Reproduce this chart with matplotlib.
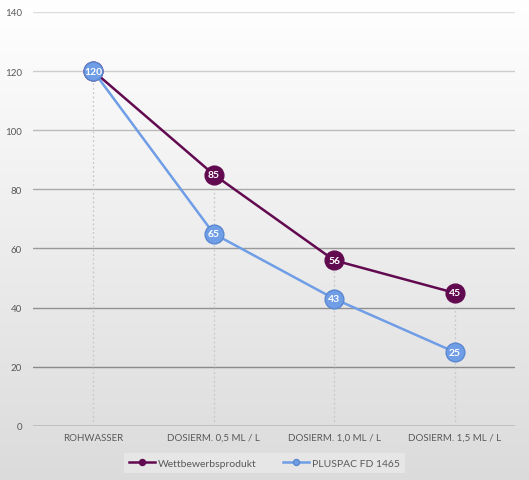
import numpy as np
import matplotlib
matplotlib.use("Agg")
import matplotlib.pyplot as plt

# Daten
categories = ["ROHWASSER", "DOSIERM. 0,5 ML / L", "DOSIERM. 1,0 ML / L", "DOSIERM. 1,5 ML / L"]
wettbewerb = [120, 85, 56, 45]
pluspac = [120, 65, 43, 25]
y_ticks = [0, 20, 40, 60, 80, 100, 120, 140]

purple = "#620a50"
blue = "#6f9de6"
text_grey = "#595959"

plt.rcParams["font.family"] = ["Lato", "DejaVu Sans"]

fig = plt.figure(figsize=(5.29, 4.81), dpi=100)

# Hintergrund-Verlauf
bg = fig.add_axes([0, 0, 1, 1], zorder=-10)
grad = np.linspace(1.0, 0.86, 256).reshape(-1, 1)
bg.imshow(np.dstack([grad, grad, grad]), aspect="auto", extent=[0, 1, 0, 1])
bg.axis("off")

ax = fig.add_axes([0.0624, 0.1123, 0.911, 0.861])
ax.patch.set_alpha(0)
x = np.arange(len(categories))

# Gitterlinien
grid_cols = ["#404040", "#8a8a8a", "#909090", "#999999", "#aaaaaa", "#bbbbbb", "#cccccc", "#dddddd"]
for yv, c in zip(y_ticks, grid_cols):
    ax.axhline(yv, color=c, lw=1.0, zorder=0)

# Fallinien
for xi, a, b in zip(x, wettbewerb, pluspac):
    ax.vlines(xi, 0, max(a, b), colors="#c8c8c8", linestyles=(0, (1.5, 2)), lw=0.9, zorder=1)

ax.plot(x, wettbewerb, color=purple, lw=1.8, marker="o", markersize=13.5,
        markerfacecolor=purple, markeredgecolor=purple, label="Wettbewerbsprodukt", zorder=3)
ax.plot(x, pluspac, color=blue, lw=1.8, marker="o", markersize=13.5,
        markerfacecolor=blue, markeredgecolor="#5a88d0", label="PLUSPAC FD 1465", zorder=4)

for xi, v in zip(x, wettbewerb):
    if xi == 0:
        continue
    ax.text(xi, v, str(v), color="white", ha="center", va="center",
            fontsize=7.5, fontweight="bold", zorder=5)
for xi, v in zip(x, pluspac):
    ax.text(xi, v, str(v), color="white", ha="center", va="center",
            fontsize=7.5, fontweight="bold", zorder=5)

ax.set_xlim(-0.5, 3.5)
ax.set_ylim(0, 140)
ax.set_yticks(y_ticks)
ax.set_xticks(x)
ax.set_xticklabels(categories)
ax.tick_params(axis="both", length=0, labelsize=7, labelcolor=text_grey)
ax.tick_params(axis="y", pad=8)
ax.tick_params(axis="x", pad=5)
for s in ax.spines.values():
    s.set_visible(False)

leg = ax.legend(loc="center", bbox_to_anchor=(0.5, 0.035), bbox_transform=fig.transFigure,
                ncol=2, frameon=True, fontsize=7.5, markerscale=0.32, handlelength=2.5,
                columnspacing=2.5, handletextpad=0.3, borderpad=0.5)
leg.get_frame().set_facecolor("#e6e6e6")
leg.get_frame().set_edgecolor("none")
leg.get_frame().set_alpha(1)
leg.get_frame().set_boxstyle("square", pad=0)
for t in leg.get_texts():
    t.set_color(text_grey)

fig.savefig("out.png", dpi=100)
